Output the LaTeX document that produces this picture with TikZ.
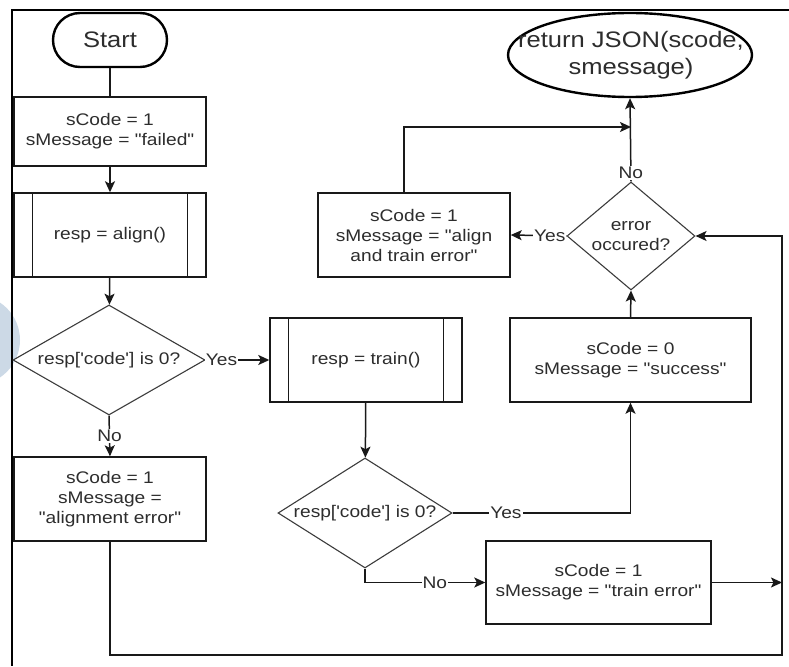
\documentclass[tikz,border=0pt]{standalone}
\usepackage{fontspec}
\setmainfont{Liberation Sans}[FakeStretch=1.14, Ligatures=TeXOff]
\usetikzlibrary{arrows.meta,shapes.geometric}
\definecolor{ink}{RGB}{25,25,25}
\definecolor{txt}{RGB}{45,45,45}
\definecolor{haze}{RGB}{204,217,230}
\begin{document}
\begin{tikzpicture}[x=1pt,y=-1pt,
  every node/.style={text=txt, font=\fontsize{16.8}{20}\selectfont, inner sep=0pt, align=center},
  big/.style={font=\fontsize{22.4}{26.9}\selectfont},
  box/.style={draw=ink, line width=1.4pt, fill=white, minimum width=192pt, minimum height=84pt},
  dia/.style={diamond, draw=ink!85, line width=1.1pt, fill=white},
  term/.style={draw=black, line width=2.4pt, fill=white},
  ln/.style={draw=ink, line width=1.5pt},
  arr/.style={ln, -{Stealth[length=11pt, width=10pt, inset=2.5pt]}},
  lbl/.style={fill=white, inner sep=1pt}
]
\useasboundingbox (0,0) rectangle (789,666);

% faint backdrop shape at the left edge
\begin{scope}
  \clip (0,0) rectangle (789,666);
  \fill[haze] (-25,340) circle (45);
\end{scope}

% outer frame
\draw[line width=2pt, black] (789,10) -- (12,10) -- (12,666);

% terminals
\node[term, big, rounded corners=27pt, minimum width=114pt, minimum height=54pt] (start) at (110,40) {Start};
\node[term, ellipse, minimum width=244pt, minimum height=84pt] (ret) at (630,55) {};
\node[big] at (631,55) {return JSON(scode,\\smessage)};

% left column
\node[box, minimum height=69pt] (fail) at (110,131.5) {sCode = 1\\sMessage = "failed"};
\node[box] (align) at (110,235) {resp = align()};
\draw[ln] ([xshift=19pt]align.north west) -- ([xshift=19pt]align.south west);
\draw[ln] ([xshift=-19pt]align.north east) -- ([xshift=-19pt]align.south east);
\node[dia, minimum width=192pt, minimum height=110pt] (d1) at (109,360) {};
\node at (d1) {resp['code'] is 0?};
\node[box] (aln) at (110,499) {sCode = 1\\sMessage =\\"alignment error"};

% middle column
\node[box] (train) at (366,360) {resp = train()};
\draw[ln] ([xshift=19pt]train.north west) -- ([xshift=19pt]train.south west);
\draw[ln] ([xshift=-19pt]train.north east) -- ([xshift=-19pt]train.south east);
\node[dia, minimum width=174pt, minimum height=110pt] (d2) at (365,513) {};
\node at (d2) {resp['code'] is 0?};
\node[box, minimum height=84pt] (aerr) at (414,235) {sCode = 1\\sMessage = "align\\and train error"};

% right column
\node[box, minimum width=241pt] (succ) at (630.5,360) {sCode = 0\\sMessage = "success"};
\node[box, minimum width=225pt, minimum height=83pt] (terr) at (598.5,582.5) {sCode = 1\\sMessage = "train error"};
\node[dia, minimum width=128pt, minimum height=108pt] (d3) at (631,236) {};
\node at (d3) {error\\occured?};

% junction points
\coordinate (lb) at (110,655);
\coordinate (rb) at (782,655);
\coordinate (tj) at (782,582.5);
\coordinate (rj) at (631,127);

% connectors
\draw[ln] (start) -- (fail);
\draw[arr] (fail) -- (align);
\draw[arr] (align) -- (d1);
\draw[arr] (d1.east) -- node[lbl, pos=0.25] {Yes} (train.west);
\draw[arr] (d1.south) -- node[lbl, pos=0.5] {No} (aln.north);
\draw[arr] (train) -- (d2);
\draw[arr] (d2.east) -| node[lbl, pos=0.15] {Yes} (succ.south);
\draw[arr] (d2.south) |- node[lbl, pos=0.79] {No} (terr.west);
\draw[arr] (terr.east) -- (tj);
\draw[arr] (aln.south) -- (lb) -- (rb) |- (d3.east);
\draw[arr] (succ.north) -- (d3.south);
\draw[arr] (d3.north) -- node[lbl, pos=0.1] {No} (ret.south);
\draw[arr] (d3.west) -- node[lbl, pos=0.3] {Yes} (aerr.east);
\draw[arr] ([xshift=-10pt]aerr.north) |- (rj);
\end{tikzpicture}
\end{document}
